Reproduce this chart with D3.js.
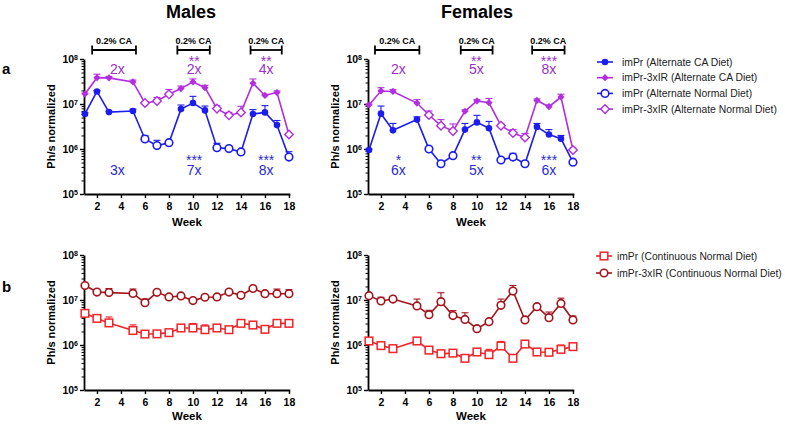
<!DOCTYPE html>
<html><head><meta charset="utf-8">
<script src="https://cdn.jsdelivr.net/npm/d3@7"></script>
<style>
body{margin:0;background:#fff;}
svg{display:block;font-family:"Liberation Sans",Arial,sans-serif;}
</style></head>
<body><svg id="c" width="785" height="424"></svg>
<script>
// ---------- DATA ----------
const weeks = [1,2,3,5,6,7,8,9,10,11,12,13,14,15,16,17,18];
// diet for alternate groups at each week: "CA" (filled) or "N" (open)
const altDiet = ["CA","CA","CA","CA","N","N","N","CA","CA","CA","N","N","N","CA","CA","CA","N"];

// Males, alternate diet
const maleImPrAlt      = [6.0e6,1.9e7,6.6e6,7.0e6,1.67e6,1.19e6,1.38e6,7.7e6,1.05e7,7.2e6,1.07e6,1.02e6,8.6e5,6.0e6,6.5e6,3.4e6,6.6e5];
const maleImPrAltUp    = [6.4e6,2.0e7,6.9e6,7.7e6,1.98e6,1.56e6,1.45e6,9.5e6,1.48e7,9.0e6,1.34e6,1.10e6,9.0e5,7.5e6,9.2e6,4.3e6,8.7e5];
const male3xIRAlt      = [1.67e7,3.85e7,3.8e7,3.1e7,1.05e7,1.17e7,1.64e7,2.2e7,3.1e7,2.3e7,7.9e6,5.6e6,6.5e6,2.9e7,1.55e7,1.8e7,2.1e6];
const male3xIRAltUp    = [1.75e7,4.6e7,4.1e7,3.4e7,1.1e7,1.4e7,2.1e7,2.5e7,3.6e7,2.6e7,9.2e6,6.5e6,8.9e6,3.6e7,1.65e7,1.95e7,2.2e6];
// Females, alternate diet
const femImPrAlt       = [9.5e5,6.1e6,2.6e6,4.5e6,1.0e6,4.7e5,7.1e5,2.7e6,3.9e6,2.9e6,5.7e5,6.6e5,4.7e5,3.1e6,2.1e6,1.7e6,5.1e5];
const femImPrAltUp     = [1.0e6,9.0e6,3.7e6,5.2e6,1.05e6,5.0e5,7.4e5,3.7e6,5.6e6,4.1e6,6.0e5,8.0e5,5.3e5,3.7e6,2.7e6,2.0e6,5.4e5];
const fem3xIRAlt       = [9.5e6,1.95e7,1.9e7,1.05e7,5.7e6,3.3e6,2.5e6,6.9e6,1.17e7,1.07e7,3.3e6,2.27e6,1.8e6,1.2e7,8.7e6,1.43e7,9.5e5];
const fem3xIRAltUp     = [1.0e7,2.3e7,2.1e7,1.25e7,7.0e6,4.5e6,3.6e6,7.4e6,1.25e7,1.32e7,3.6e6,2.7e6,2.2e6,1.3e7,9.5e6,1.65e7,1.05e6];

// Continuous normal diet
const maleImPrCont     = [5.05e6,3.9e6,3.1e6,2.1e6,1.75e6,1.77e6,1.88e6,2.39e6,2.39e6,2.19e6,2.39e6,2.19e6,3.03e6,2.78e6,2.23e6,3.03e6,3.03e6];
const maleImPrContUp   = [5.3e6,4.5e6,4.2e6,2.8e6,1.85e6,1.85e6,1.95e6,2.8e6,3.0e6,2.8e6,2.5e6,2.3e6,3.1e6,2.9e6,2.35e6,3.5e6,3.2e6];
const male3xIRCont     = [2.1e7,1.5e7,1.46e7,1.4e7,8.7e6,1.48e7,1.17e7,1.23e7,9.7e6,1.15e7,1.17e7,1.5e7,1.27e7,1.8e7,1.38e7,1.38e7,1.38e7];
const male3xIRContUp   = [2.2e7,1.55e7,1.8e7,1.75e7,1.05e7,1.55e7,1.22e7,1.28e7,1.0e7,1.2e7,1.22e7,1.55e7,1.32e7,1.9e7,1.45e7,1.75e7,1.7e7];
const femImPrCont      = [1.23e6,9.7e5,8.3e5,1.23e6,7.7e5,6.4e5,6.6e5,5.06e5,7.0e5,6.1e5,9.5e5,5.06e5,1.05e6,7.0e5,6.9e5,8.0e5,9.2e5];
const femImPrContUp    = [1.3e6,1.0e6,8.7e5,1.28e6,8.0e5,6.6e5,6.9e5,5.3e5,7.3e5,8.0e5,1.2e6,5.3e5,1.1e6,7.3e5,7.3e5,1.0e6,9.6e5];
const fem3xIRCont      = [1.25e7,9.5e6,1.05e7,7.4e6,4.7e6,9.2e6,4.5e6,3.7e6,2.3e6,3.3e6,7.6e6,1.58e7,3.6e6,7.1e6,4.05e6,8.4e6,3.6e6];
const fem3xIRContUp    = [1.3e7,1.15e7,1.1e7,1.05e7,5.9e6,1.45e7,5.8e6,5.2e6,2.4e6,3.4e6,1.05e7,2.1e7,3.7e6,7.4e6,5.4e6,1.1e7,4.4e6];

// CA periods (weeks) and significance labels
const maleCAPeriods   = [[1.6,5.25],[8.7,11.4],[14.8,17.4]];
const femCAPeriods    = [[1.5,5.2],[8.65,11.3],[14.6,17.3]];
const maleFold3xIR = ["2x","2x","4x"], maleStars3xIR = ["","**","**"];
const maleFoldImPr = ["3x","7x","8x"], maleStarsImPr = ["","***","***"];
const femFold3xIR  = ["2x","5x","8x"], femStars3xIR  = ["","**","***"];
const femFoldImPr  = ["6x","5x","6x"], femStarsImPr  = ["*","**","***"];

const yTicks = [1e5,1e6,1e7,1e8];
const xTicks = [2,4,6,8,10,12,14,16,18];
const caLabel = "0.2% CA";

// ---------- STYLE ----------
const BLUE = "#1c1cf0", PURPLE = "#b22ee0", PURPLE_T = "#9b30c8", BLUE_T = "#2a2ad8";
const RED = "#f2232a", DRED = "#a3141c";

const svg = d3.select("#c");

function makePanel(x0, yTop, yBot) {
  const x = d3.scaleLinear().domain([0.92, 18.07]).range([x0, x0 + 205.8]);
  const y = d3.scaleLog().domain([1e5, 1e8]).range([yBot, yTop]);
  const g = svg.append("g");
  const xa = g.append("g").attr("transform", `translate(0,${yBot})`)
    .call(d3.axisBottom(x).tickValues(xTicks).tickSize(4).tickSizeOuter(0).tickFormat(d3.format("d")));
  xa.select(".domain").attr("stroke-width", 1.8);
  xa.selectAll(".tick line").attr("stroke-width", 1.4);
  xa.selectAll(".tick text").attr("font-size", 10.5).attr("font-weight", "bold").attr("dy", "0.9em");
  const minors = [];
  for (let e = 5; e < 8; e++) for (let m = 2; m <= 9; m++) minors.push(m * Math.pow(10, e));
  g.append("g").attr("transform", `translate(${x0},0)`)
    .call(d3.axisLeft(y).tickValues(minors).tickSize(2.5).tickFormat(""))
    .call(a => { a.select(".domain").remove(); a.selectAll("line").attr("stroke-width", 1); });
  const ya = g.append("g").attr("transform", `translate(${x0},0)`)
    .call(d3.axisLeft(y).tickValues(yTicks).tickSize(4).tickSizeOuter(0).tickFormat(""));
  ya.select(".domain").attr("stroke-width", 1.8);
  ya.selectAll(".tick line").attr("stroke-width", 1.4);
  ya.selectAll(".tick").append("text")
    .attr("x", -6).attr("dy", "0.35em").attr("text-anchor", "end").attr("fill", "#000")
    .attr("font-size", 10.5).attr("font-weight", "bold")
    .each(function (d) {
      const t = d3.select(this);
      t.append("tspan").text("10");
      t.append("tspan").attr("dy", "-0.45em").attr("font-size", 7).text(Math.round(Math.log10(d)));
    });
  return { x, y, g, x0, yTop, yBot };
}

function drawSeries(p, vals, ups, color, markerFn, lineW) {
  const pts = weeks.map((w, i) => ({ w, v: vals[i], u: ups[i], i }));
  const line = d3.line().x(d => p.x(d.w)).y(d => p.y(d.v));
  p.g.append("path").datum(pts).attr("d", line).attr("fill", "none")
    .attr("stroke", color).attr("stroke-width", lineW || 1.6);
  const eb = p.g.append("g").attr("stroke", color).attr("stroke-width", 1.1);
  pts.filter(d => d.u > d.v * 1.03).forEach(d => {
    eb.append("line").attr("x1", p.x(d.w)).attr("x2", p.x(d.w)).attr("y1", p.y(d.v)).attr("y2", p.y(d.u));
    eb.append("line").attr("x1", p.x(d.w) - 3.5).attr("x2", p.x(d.w) + 3.5).attr("y1", p.y(d.u)).attr("y2", p.y(d.u));
  });
  pts.forEach(d => markerFn(p.g, p.x(d.w), p.y(d.v), d.i));
}

const filledCircle = (c) => (g, cx, cy) => g.append("circle").attr("cx", cx).attr("cy", cy).attr("r", 3.3).attr("fill", c);
const openCircle = (c) => (g, cx, cy) => g.append("circle").attr("cx", cx).attr("cy", cy).attr("r", 3.8).attr("fill", "#fff").attr("stroke", c).attr("stroke-width", 1.6);
const diamondPath = (cx, cy, s) => `M${cx},${cy - s}L${cx + s},${cy}L${cx},${cy + s}L${cx - s},${cy}Z`;
const filledDiamond = (c) => (g, cx, cy) => g.append("path").attr("d", diamondPath(cx, cy, 3.6)).attr("fill", c);
const openDiamond = (c) => (g, cx, cy) => g.append("path").attr("d", diamondPath(cx, cy, 4.3)).attr("fill", "#fff").attr("stroke", c).attr("stroke-width", 1.4);
const openSquare = (c) => (g, cx, cy) => g.append("rect").attr("x", cx - 3.8).attr("y", cy - 3.8).attr("width", 7.6).attr("height", 7.6).attr("fill", "#fff").attr("stroke", c).attr("stroke-width", 1.5);
const altMarker = (filled, open) => (g, cx, cy, i) => (altDiet[i] === "CA" ? filled : open)(g, cx, cy);

function annot(p, cx, stars, fold, color, yStar, yFold) {
  const t = p.g.append("text").attr("text-anchor", "middle").attr("font-size", 14).attr("fill", color);
  if (stars) {
    t.append("tspan").attr("x", cx).attr("y", yStar).text(stars);
    t.append("tspan").attr("x", cx).attr("y", yFold).text(fold);
  } else {
    t.attr("x", cx).attr("y", yFold).text(fold);
  }
}

function decorate(p, periods, fold3, stars3, foldI, starsI, foldX) {
  const yb = 50;
  periods.forEach(([a, b], k) => {
    const g = p.g.append("g").attr("stroke", "#000").attr("stroke-width", 1.8);
    g.append("line").attr("x1", p.x(a)).attr("x2", p.x(b)).attr("y1", yb).attr("y2", yb);
    g.append("line").attr("x1", p.x(a)).attr("x2", p.x(a)).attr("y1", yb - 4.5).attr("y2", yb + 4.5);
    g.append("line").attr("x1", p.x(b)).attr("x2", p.x(b)).attr("y1", yb - 4.5).attr("y2", yb + 4.5);
    p.g.append("text").attr("x", p.x((a + b) / 2)).attr("y", yb - 6).attr("text-anchor", "middle")
      .attr("font-size", 9).attr("font-weight", "bold").text(caLabel);
    const cx = p.x(foldX[k]);
    annot(p, cx, stars3[k], fold3[k], PURPLE_T, 65.5, 73.5);
    annot(p, cx, starsI[k], foldI[k], BLUE_T, 164.5, 175);
  });
}

function labels(p, xl, weekY) {
  const cy = (p.yTop + p.yBot) / 2;
  svg.append("text").attr("transform", `translate(${xl},${cy}) rotate(-90)`).attr("text-anchor", "middle")
    .attr("font-size", 11).attr("font-weight", "bold").text("Ph/s normalized");
  svg.append("text").attr("x", p.x0 + 103).attr("y", weekY).attr("text-anchor", "middle")
    .attr("font-size", 11.5).attr("font-weight", "bold").text("Week");
}

const pTL = makePanel(84, 59, 194);
const pTR = makePanel(368, 59, 194);
const pBL = makePanel(84, 255, 390);
const pBR = makePanel(368, 255, 390);

decorate(pTL, maleCAPeriods, maleFold3xIR, maleStars3xIR, maleFoldImPr, maleStarsImPr, [3.7, 10.1, 16.1]);
decorate(pTR, femCAPeriods, femFold3xIR, femStars3xIR, femFoldImPr, femStarsImPr, [3.45, 9.95, 16.0]);

drawSeries(pTL, male3xIRAlt, male3xIRAltUp, PURPLE, altMarker(filledDiamond(PURPLE), openDiamond(PURPLE)));
drawSeries(pTL, maleImPrAlt, maleImPrAltUp, BLUE, altMarker(filledCircle(BLUE), openCircle(BLUE)));
drawSeries(pTR, fem3xIRAlt, fem3xIRAltUp, PURPLE, altMarker(filledDiamond(PURPLE), openDiamond(PURPLE)));
drawSeries(pTR, femImPrAlt, femImPrAltUp, BLUE, altMarker(filledCircle(BLUE), openCircle(BLUE)));

drawSeries(pBL, male3xIRCont, male3xIRContUp, DRED, openCircle(DRED));
drawSeries(pBL, maleImPrCont, maleImPrContUp, RED, openSquare(RED));
drawSeries(pBR, fem3xIRCont, fem3xIRContUp, DRED, openCircle(DRED));
drawSeries(pBR, femImPrCont, femImPrContUp, RED, openSquare(RED));

labels(pTL, 55, 226); labels(pTR, 339, 226);
labels(pBL, 55, 420); labels(pBR, 339, 420);

const narrow = "'Liberation Sans Narrow','Liberation Sans',Arial,sans-serif";
svg.append("text").attr("x", 191).attr("y", 18).attr("text-anchor", "middle").attr("font-family", narrow)
  .attr("font-size", 18).attr("font-weight", "bold").text("Males");
svg.append("text").attr("x", 477).attr("y", 18).attr("text-anchor", "middle").attr("font-family", narrow)
  .attr("font-size", 18).attr("font-weight", "bold").text("Females");
svg.append("text").attr("x", 2).attr("y", 74).attr("font-size", 15).attr("font-weight", "bold").text("a");
svg.append("text").attr("x", 2).attr("y", 292).attr("font-size", 15).attr("font-weight", "bold").text("b");

const legendTop = [
  { label: "imPr (Alternate CA Diet)", color: BLUE, m: filledCircle(BLUE) },
  { label: "imPr-3xIR (Alternate CA Diet)", color: PURPLE, m: filledDiamond(PURPLE) },
  { label: "imPr (Alternate Normal Diet)", color: BLUE, m: openCircle(BLUE) },
  { label: "imPr-3xIR (Alternate Normal Diet)", color: PURPLE, m: openDiamond(PURPLE) }
];
const legendBot = [
  { label: "imPr (Continuous Normal Diet)", color: RED, m: openSquare(RED) },
  { label: "imPr-3xIR (Continuous Normal Diet)", color: DRED, m: openCircle(DRED) }
];
// fit legend font so the longest label spans the measured width
function legend(items, lx, ly, dy, tx, maxW) {
  const g = svg.append("g");
  const texts = [];
  items.forEach((it, i) => {
    const yy = ly + i * dy;
    g.append("line").attr("x1", lx).attr("x2", lx + 16).attr("y1", yy).attr("y2", yy).attr("stroke", it.color).attr("stroke-width", 1.6);
    it.m(g, lx + 8, yy);
    texts.push(g.append("text").attr("x", tx).attr("y", yy).attr("dy", "0.35em").attr("font-size", 10).attr("fill", "#222").text(it.label));
  });
  const w = d3.max(texts, t => t.node().getComputedTextLength());
  const fs = Math.min(12, 10 * maxW / w);
  texts.forEach(t => t.attr("font-size", fs));
}
legend(legendTop, 597, 62, 15.7, 622, 155);
legend(legendBot, 596, 256, 17, 617, 165);
</script></body></html>
